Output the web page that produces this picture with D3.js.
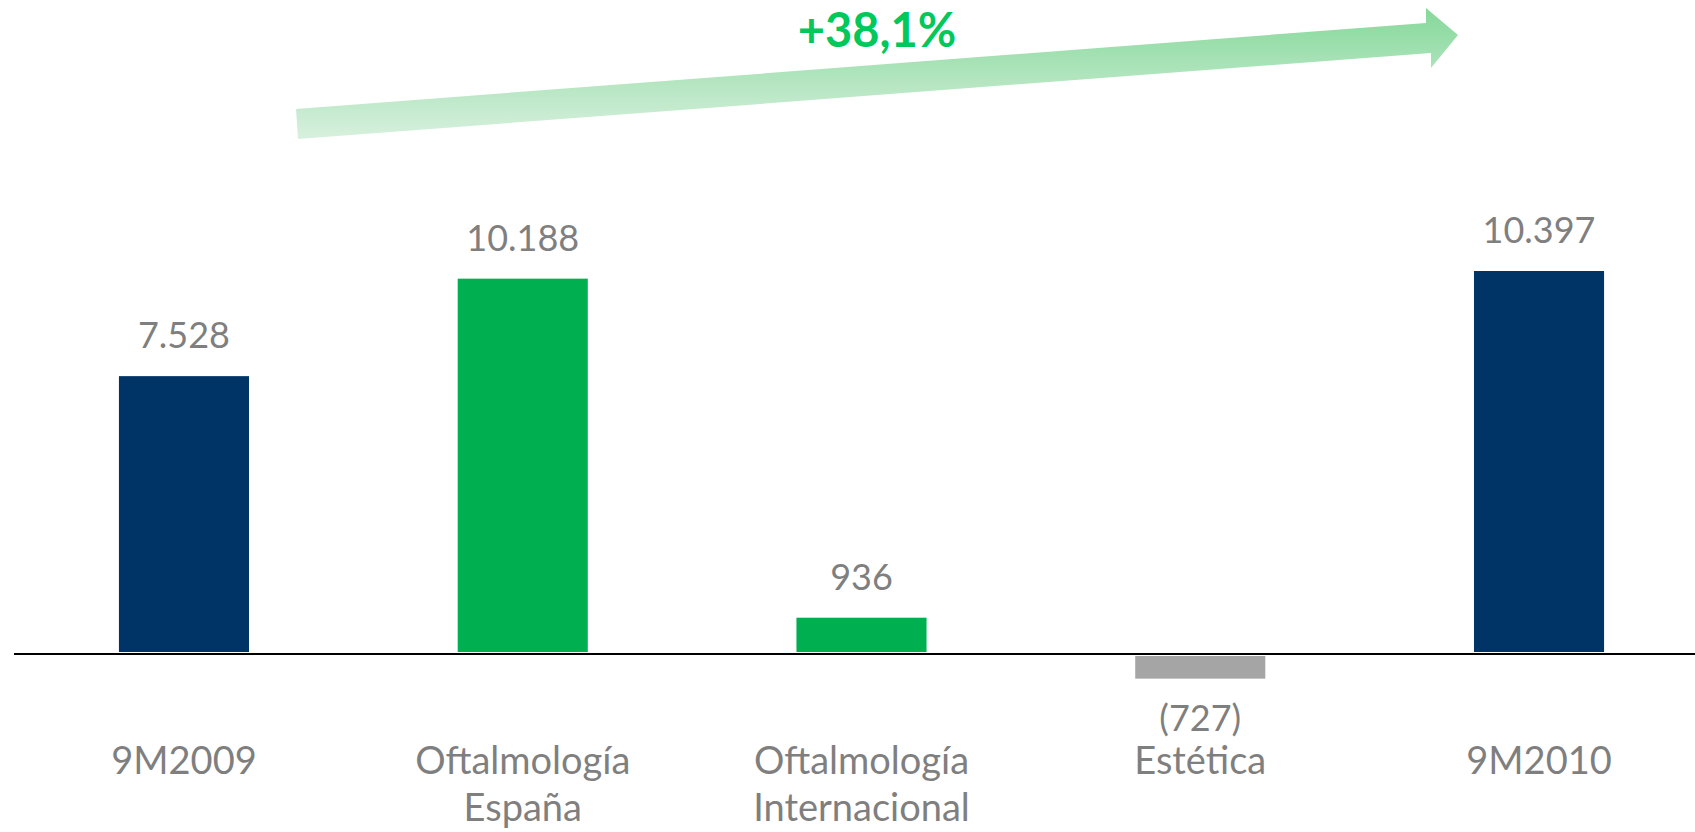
<!DOCTYPE html>
<html>
<head>
<meta charset="utf-8">
<script src="https://cdn.jsdelivr.net/npm/d3@7"></script>
<style>
  html, body { margin: 0; padding: 0; background: #fff; }
  svg { display: block; }
  .label { font-family: Lato, "Open Sans", sans-serif; fill: #7f7f7f; }
</style>
</head>
<body>
<div id="chart"></div>
<script>
// data
const categories = ["9M2009", "Oftalmología España", "Oftalmología Internacional", "Estética", "9M2010"];
const labelLines = [["9M2009"], ["Oftalmología", "España"], ["Oftalmología", "Internacional"], ["Estética"], ["9M2010"]];
const values = [7528, 10188, 936, -727, 10397];
const valueLabels = ["7.528", "10.188", "936", "(727)", "10.397"];
const barKinds = ["total", "up", "up", "down", "total"];
const growthLabel = "+38,1%";

const width = 1695;
const height = 832;

const colors = { total: "#003366", up: "#00b050", down: "#a5a5a5" };

const svg = d3.select("#chart").append("svg")
  .attr("width", width)
  .attr("height", height);

// scales
const x = d3.scaleBand()
  .domain(categories)
  .range([14.6, 1708.4])
  .paddingInner(0.616)
  .paddingOuter(0.308);

const y = d3.scaleLinear()
  .domain([0, 10397])
  .range([652, 271]);

const data = categories.map((c, i) => ({
  cat: c, value: values[i], label: valueLabels[i], kind: barKinds[i], lines: labelLines[i]
}));

// growth arrow (annotation)
const defs = svg.append("defs");
const grad = defs.append("linearGradient")
  .attr("id", "arrowGrad")
  .attr("gradientUnits", "userSpaceOnUse")
  .attr("x1", 0).attr("y1", 8)
  .attr("x2", 0).attr("y2", 139);
grad.append("stop").attr("offset", "0%").attr("stop-color", "#85d89a");
grad.append("stop").attr("offset", "100%").attr("stop-color", "#d8f0de");

const ax0 = x(categories[0]) + x.bandwidth() + 47;
const ax1 = x(categories[4]) - 16;
const arrowPts = [
  [ax0, 109], [ax1 - 32, 23], [ax1 - 32, 8], [ax1, 35],
  [ax1 - 27, 68], [ax1 - 27, 53], [ax0 + 2, 139]
];
svg.append("polygon")
  .attr("points", arrowPts.map(p => p.join(",")).join(" "))
  .attr("fill", "url(#arrowGrad)");

svg.append("text")
  .attr("x", 877)
  .attr("y", 47)
  .attr("text-anchor", "middle")
  .style("font-family", "Lato, 'Open Sans', sans-serif")
  .style("font-weight", "bold")
  .style("font-size", "47px")
  .style("fill", "#00c85a")
  .text(growthLabel);

// bars
svg.selectAll(".bar")
  .data(data)
  .enter()
  .append("rect")
  .attr("class", "bar")
  .attr("x", d => x(d.cat))
  .attr("width", x.bandwidth())
  .attr("y", d => d.value >= 0 ? y(d.value) : y(0) + 4)
  .attr("height", d => d.value >= 0 ? y(0) - y(d.value) : y(d.value) - y(0) - 4)
  .attr("fill", d => colors[d.kind]);

// zero line
svg.append("line")
  .attr("x1", 14).attr("x2", width)
  .attr("y1", y(0) + 2).attr("y2", y(0) + 2)
  .attr("stroke", "#000")
  .attr("stroke-width", 2);

// value labels
svg.selectAll(".value-label")
  .data(data)
  .enter()
  .append("text")
  .attr("class", "label value-label")
  .attr("x", d => x(d.cat) + x.bandwidth() / 2)
  .attr("y", d => d.value >= 0 ? y(d.value) - 28 : y(d.value) + 52)
  .attr("text-anchor", "middle")
  .style("font-size", "36px")
  .text(d => d.label);

// category labels
const catLabels = svg.selectAll(".cat-label")
  .data(data)
  .enter()
  .append("text")
  .attr("class", "label cat-label")
  .attr("x", d => x(d.cat) + x.bandwidth() / 2)
  .attr("y", 774)
  .attr("text-anchor", "middle")
  .style("font-size", "38px");

catLabels.selectAll("tspan")
  .data(d => d.lines.map(l => ({ text: l, cx: x(d.cat) + x.bandwidth() / 2 })))
  .enter()
  .append("tspan")
  .attr("x", d => d.cx)
  .attr("dy", (d, i) => i === 0 ? 0 : 47)
  .text(d => d.text);
</script>
</body>
</html>
